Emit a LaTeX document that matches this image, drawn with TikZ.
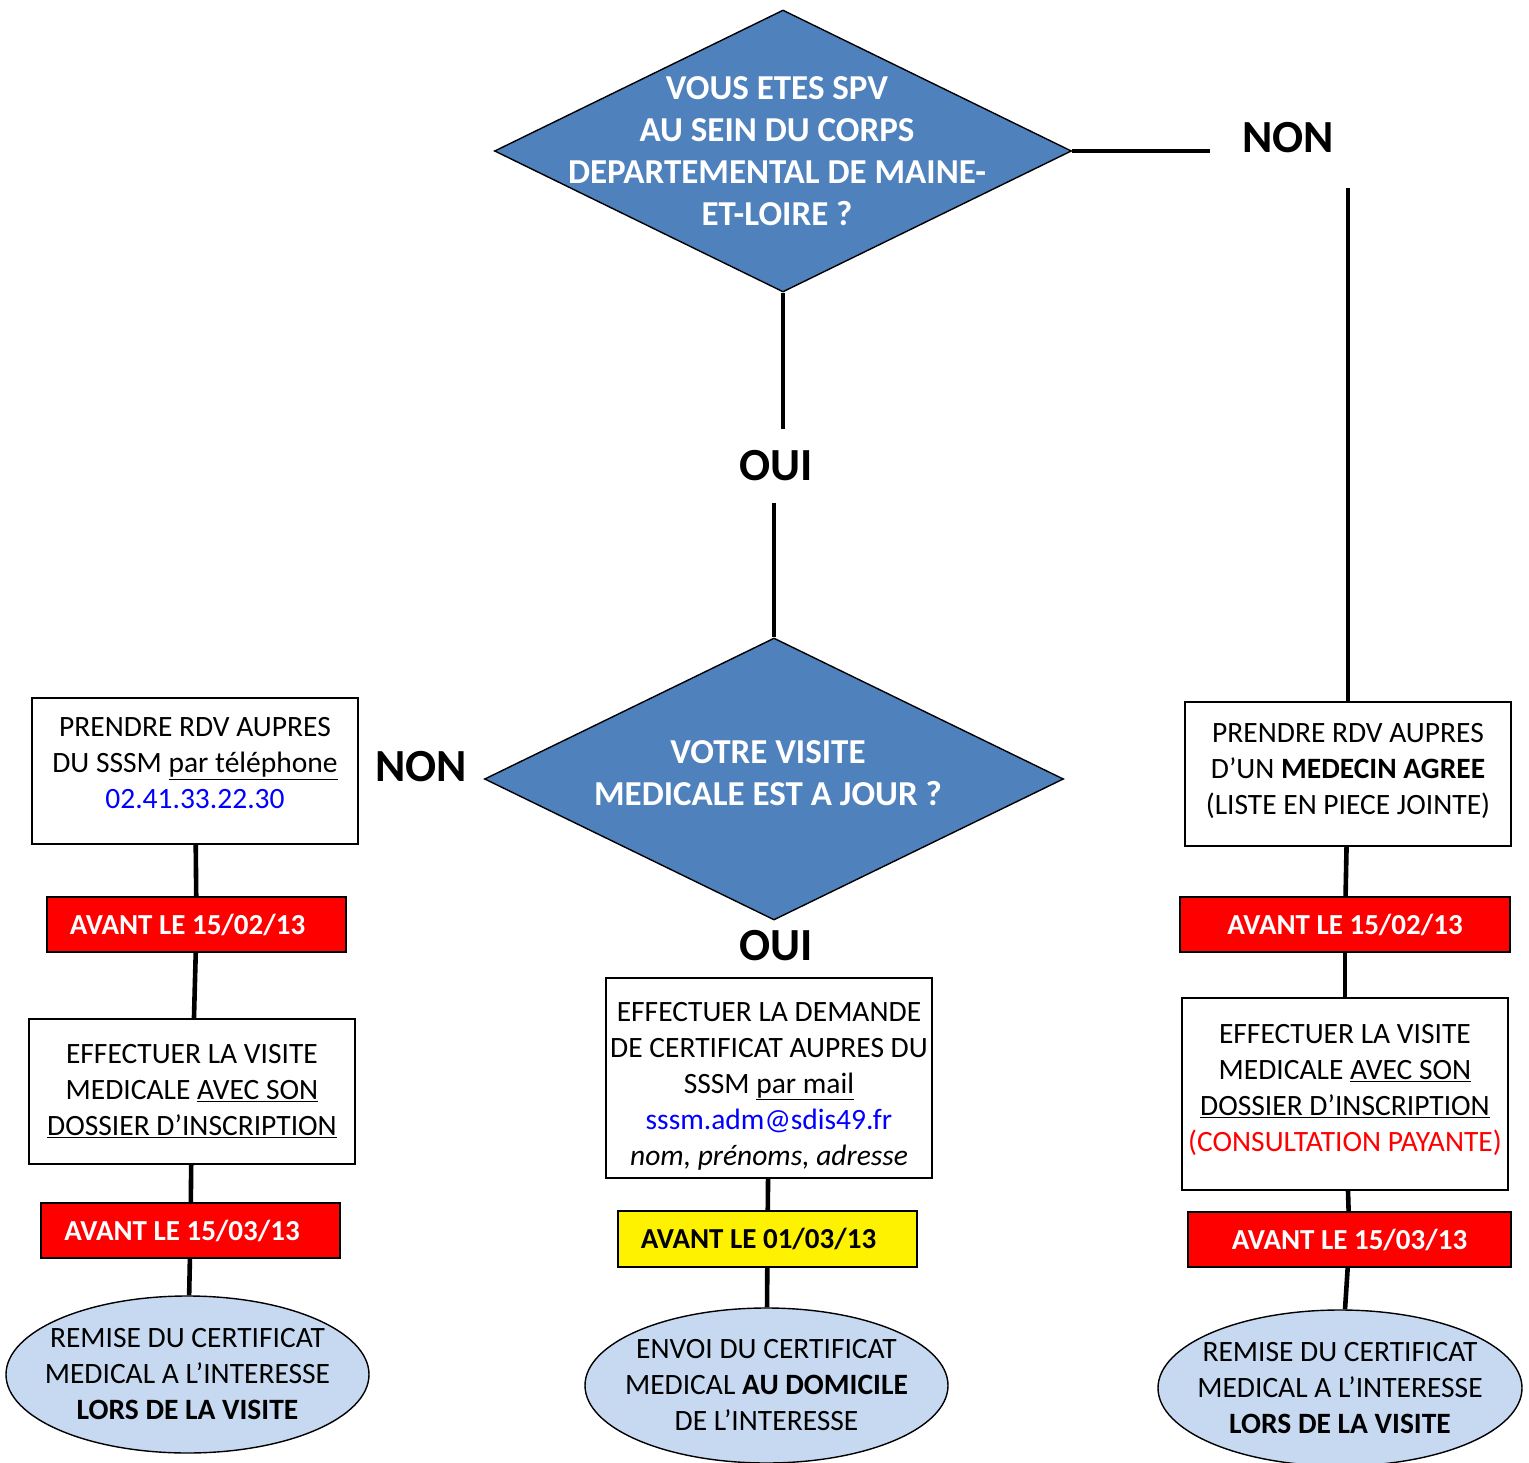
\documentclass[tikz,border=0pt]{standalone}
\usepackage{fontspec}
\setmainfont{Carlito}
\usetikzlibrary{shapes.geometric}

\definecolor{decblue}{RGB}{79,129,189}
\definecolor{endblue}{RGB}{198,217,241}
\definecolor{telblue}{RGB}{0,0,255}

\begin{document}
\begin{tikzpicture}[x=1pt,y=-1pt,
  decision/.style={diamond,draw=black,line width=1.4pt,fill=decblue,inner sep=0pt},
  dectext/.style={text=white,align=center,xshift=-6pt,font=\fontsize{35}{42}\selectfont\bfseries},
  answer/.style={inner xsep=32pt,inner ysep=22pt,font=\fontsize{46}{52}\selectfont\bfseries},
  stepbox/.style={rectangle,draw=black,line width=1.6pt,fill=white,align=center,inner sep=0pt,
    minimum width=326pt,font=\fontsize{29.5}{36}\selectfont},
  deadline/.style={rectangle,draw=black,line width=1.6pt,fill=red,text=white,inner sep=0pt,
    minimum width=299pt,minimum height=55pt,font=\fontsize{29}{34}\selectfont\bfseries},
  result/.style={ellipse,draw=black,line width=1.4pt,fill=endblue,inner sep=0pt,
    minimum width=363pt,minimum height=157pt},
  restext/.style={align=center,font=\fontsize{29.5}{36}\selectfont},
  link/.style={line width=4.6pt}]
  \useasboundingbox (0,0) rectangle (1529,1463);
  % Questions
  \node[decision,minimum width=577pt,minimum height=282pt] (q1) at (783,151) {};
  \node[dectext] (q1t) at (q1.center) {VOUS ETES SPV\\AU SEIN DU CORPS\\DEPARTEMENTAL DE MAINE-\\ET-LOIRE ?};
  \node[decision,minimum width=579pt,minimum height=282pt] (q2) at (774,779) {};
  \node[dectext,yshift=6pt] (q2t) at (q2.center) {VOTRE VISITE\\MEDICALE EST A JOUR ?};
  % Answers
  \node[answer] (oui1) at (776,466) {OUI};
  \node[answer,inner ysep=35pt] (non1) at (1288,138) {NON};
  \node[answer] (non2) at (421,767) {NON};
  \node[answer] (oui2) at (776,946) {OUI};
  % Left column
  \node[stepbox,minimum height=146pt] (l1) at (195,771)
    {PRENDRE RDV AUPRES\\DU SSSM \underline{par téléphone}\\{\color{telblue}02.41.33.22.30}\\[-20pt]\mbox{}};
  \node[deadline] (ld1) at (196.5,924.5) {AVANT LE 15/02/13\hspace*{18pt}};
  \node[stepbox,minimum height=145pt] (l2) at (192,1091.5)
    {EFFECTUER LA VISITE\\MEDICALE \underline{AVEC SON}\\\underline{DOSSIER D’INSCRIPTION}};
  \node[deadline] (ld2) at (190.5,1230.5) {AVANT LE 15/03/13\hspace*{17pt}};
  \node[result] (le) at (187.5,1374.5) {};
  \node[restext] (let) at (le.center) {REMISE DU CERTIFICAT\\MEDICAL A L’INTERESSE\\\textbf{LORS DE LA VISITE}};
  % Middle column
  \node[stepbox,minimum height=200pt] (m1) at (769,1078)
    {\mbox{}\\[-1pt]EFFECTUER LA DEMANDE\\DE CERTIFICAT AUPRES DU\\SSSM \underline{par mail}\\{\color{telblue}sssm.adm@sdis49.fr}\\\textit{nom, prénoms, adresse}};
  \node[deadline,fill=yellow,text=black,minimum height=56pt] (md) at (767.5,1239) {AVANT LE 01/03/13\hspace*{18pt}};
  \node[result,minimum height=155pt] (me) at (766.5,1385.5) {};
  \node[restext] (met) at (me.center) {ENVOI DU CERTIFICAT\\MEDICAL \textbf{AU DOMICILE}\\DE L’INTERESSE};
  % Right column
  \node[stepbox,minimum height=144pt] (r1) at (1348,774)
    {PRENDRE RDV AUPRES\\D’UN \textbf{MEDECIN AGREE}\\(LISTE EN PIECE JOINTE)\\[-26pt]\mbox{}};
  \node[deadline,minimum width=330pt] (rd1) at (1345,924.5) {AVANT LE 15/02/13};
  \node[stepbox,minimum height=192pt] (r2) at (1345,1094)
    {EFFECTUER LA VISITE\\MEDICALE \underline{AVEC SON}\\\underline{DOSSIER D’INSCRIPTION}\\{\color{red}(CONSULTATION PAYANTE)}\\[-24pt]\mbox{}};
  \node[deadline,minimum width=323pt] (rd2) at (1349.5,1239.5) {AVANT LE 15/03/13};
  \node[result,minimum width=364pt,minimum height=156pt] (re) at (1340,1388) {};
  \node[restext] (ret) at (re.center) {REMISE DU CERTIFICAT\\MEDICAL A L’INTERESSE\\\textbf{LORS DE LA VISITE}};
  % Links
  \path[link]
      (q1.south) edge (q1.south |- oui1.north)
      (oui1.south -| q2.north) edge (q2.north)
      (q1.east) edge (q1.east -| non1.west)
      (r1.north) edge (r1.north |- non1.south)
      (l1) edge (ld1)
      (ld1) edge (l2)
      (l2) edge (ld2)
      (ld2) edge (le)
      (m1) edge (md)
      (md) edge (me)
      (r1) edge (rd1)
      (rd1) edge (r2)
      (r2) edge (rd2)
      (rd2) edge (re);
\end{tikzpicture}
\end{document}
